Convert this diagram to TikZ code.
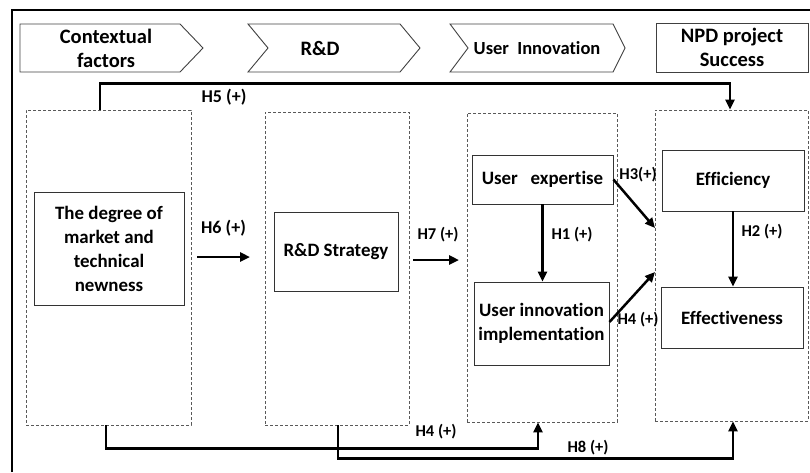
\documentclass[tikz,border=0pt]{standalone}
\usepackage{fontspec}
\setmainfont{Carlito}[RawFeature={-liga}]
\usetikzlibrary{arrows.meta,calc}
\begin{document}
\begin{tikzpicture}[x=1pt,y=-1pt,
  font=\bfseries,
  dbox/.style={draw=black!65,dash pattern=on 3pt off 2pt,line width=0.8pt,inner sep=0pt},
  ibox/.style={draw=black!80,line width=0.9pt,inner sep=0pt,align=center,font=\fontsize{18.9}{24}\selectfont\bfseries},
  hdr/.style={draw=black!75,line width=0.9pt,line join=miter},
  htext/.style={align=center,inner sep=0pt,font=\fontsize{20.5}{24}\selectfont\bfseries},
  arr/.style={line width=2.5pt,-{Triangle[length=10pt,width=9pt]}},
  lbl/.style={inner sep=0pt,font=\fontsize{16.5}{19}\selectfont\bfseries},
  lblb/.style={inner sep=0pt,font=\fontsize{18}{20}\selectfont\bfseries}]
\useasboundingbox (0,0) rectangle (810,472);
% outer frame (only left and top visible)
\draw[line width=1.8pt] (12,472) -- (12,10) -- (810,10);
% headers
\draw[hdr] (20,24) -- (180,24) -- (203,48) -- (180,72) -- (20,72) -- cycle;
\node[htext] (t1) at (106,48) {Contextual\\factors};
\draw[hdr] (248,24) -- (400,24) -- (420,48) -- (400,72) -- (248,72) -- (268,48) -- cycle;
\node[htext] (t2) at (320,48) {R\&D};
\draw[hdr] (450,24) -- (613,24) -- (625,48) -- (613,72) -- (450,72) -- (468,48) -- cycle;
\node[htext,font=\fontsize{18.5}{22}\selectfont\bfseries] (t3) at (537,48) {User\ \ Innovation};
\node[hdr,htext,minimum width=152pt,minimum height=49pt] (t4) at (732,47.5) {NPD project\\Success};
% dashed groups
\node[dbox,minimum width=165pt,minimum height=315pt] (d1) at (108.5,267.5) {};
\node[dbox,minimum width=144pt,minimum height=313pt] (d2) at (337,268.5) {};
\node[dbox,minimum width=150pt,minimum height=309pt] (d3) at (542,267.5) {};
\node[dbox,minimum width=153pt,minimum height=311pt] (d4) at (731.5,265.5) {};
% inner boxes
\node[ibox,minimum width=150pt,minimum height=113pt] (b1) at (109,248.5) {The degree of\\market and\\technical\\newness};
\node[ibox,minimum width=124pt,minimum height=79pt] (b2) at (336,251.5) {R\&D Strategy};
\node[ibox,minimum width=141pt,minimum height=49pt] (ue) at (542.5,179.5) {User\ \ \ expertise};
\node[ibox,minimum width=135pt,minimum height=83pt] (ui) at (541.5,323.5) {User innovation\\implementation};
\node[ibox,minimum width=142pt,minimum height=61pt] (ef) at (733,180.5) {Efficiency};
\node[ibox,minimum width=142pt,minimum height=61pt] (ev) at (732,317.5) {Effectiveness};
% free ends
\coordinate (h6s) at (197,257);
\coordinate (h6e) at (250,257);
\coordinate (h7s) at (413,260);
\coordinate (h7e) at (459,260);
\coordinate (h3e) at (655,228);
\coordinate (h4e) at (655,272);
% connectors
\draw[arr] ([xshift=-8.5pt]d1.north) -- ++(0,-26) -| ([xshift=-1.5pt]d4.north);
\draw[arr] (h6s) -- (h6e);
\draw[arr] (h7s) -- (h7e);
\draw[arr] (ue.south) -- (ue.south |- ui.north);
\draw[arr] (ef.south) -- (ef.south |- ev.north);
\draw[arr] (ue.east) -- (h3e);
\draw[arr] ([yshift=1.5pt]ui.east) -- (h4e);
\draw[arr] ([xshift=-2.5pt]d1.south) -- ++(0,23) -| ([xshift=-4pt]d3.south);
\draw[arr] ([xshift=1pt]d2.south) -- ++(0,33) -| ([xshift=1.5pt]d4.south);
% labels
\node[lblb] (l5) at (224,97) {H5 (+)};
\node[lblb] (l6) at (223.5,228) {H6 (+)};
\node[lbl] (l7) at (438,235) {H7 (+)};
\node[lbl] (l1) at (572,235) {H1 (+)};
\node[lbl] (l2) at (762,232) {H2 (+)};
\node[lbl] (l3) at (638,175) {H3(+)};
\node[lbl] (l4a) at (638,320) {H4 (+)};
\node[lbl] (l4b) at (436,432) {H4 (+)};
\node[lbl] (l8) at (588,448) {H8 (+)};
\end{tikzpicture}
\end{document}
